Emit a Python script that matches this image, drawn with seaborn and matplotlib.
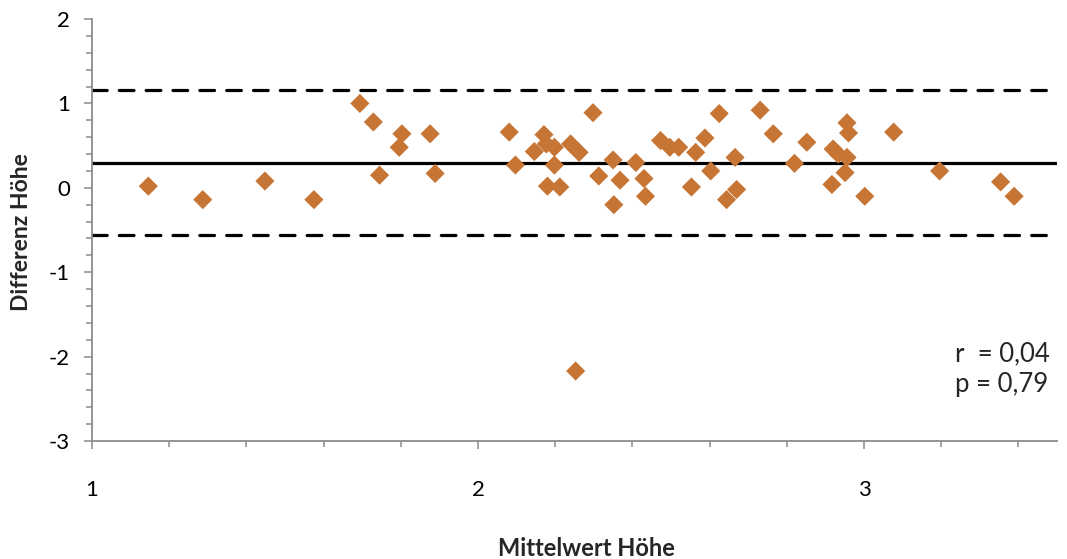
import matplotlib
matplotlib.use("Agg")
import matplotlib.pyplot as plt
import seaborn as sns
import pandas as pd
from matplotlib.ticker import MultipleLocator

# Bland-Altman: Mittelwert vs Differenz (Höhe)
mittelwert = [1.146, 1.287, 1.448, 1.575, 1.694, 1.729, 1.745, 1.796, 1.803, 1.876,
              1.889, 2.081, 2.097, 2.146, 2.171, 2.177, 2.198, 2.240, 2.262, 2.198,
              2.180, 2.212, 2.253, 2.298, 2.313, 2.350, 2.352, 2.368, 2.409, 2.430,
              2.434, 2.473, 2.497, 2.520, 2.553, 2.564, 2.588, 2.603, 2.625, 2.644,
              2.666, 2.670, 2.731, 2.765, 2.820, 2.852, 2.917, 2.920, 2.933, 2.956,
              2.960, 2.956, 2.951, 3.002, 3.077, 3.196, 3.354, 3.389]
differenz = [0.02, -0.14, 0.08, -0.14, 1.00, 0.78, 0.15, 0.48, 0.64, 0.64,
             0.17, 0.66, 0.27, 0.43, 0.63, 0.52, 0.48, 0.52, 0.42, 0.27,
             0.02, 0.01, -2.17, 0.89, 0.14, 0.33, -0.20, 0.09, 0.30, 0.11,
             -0.10, 0.56, 0.48, 0.48, 0.01, 0.42, 0.59, 0.20, 0.88, -0.14,
             0.36, -0.02, 0.92, 0.64, 0.29, 0.54, 0.04, 0.46, 0.40, 0.77,
             0.65, 0.36, 0.18, -0.10, 0.66, 0.20, 0.07, -0.10]

mean_diff = 0.30
loa_upper = 1.16
loa_lower = -0.56
stats_text = "r  = 0,04\np = 0,79"

sns.set_style("white")
plt.rcParams['font.family'] = ['Lato', 'DejaVu Sans']
plt.rcParams['axes.unicode_minus'] = False

df = pd.DataFrame({"Mittelwert": mittelwert, "Differenz": differenz})

fig = plt.figure(figsize=(10.67, 5.59), dpi=100)
ax = fig.add_axes([0.0862, 0.211, 0.9044, 0.755])

x_lo, x_hi = 1, 3.5
ax.plot([x_lo, x_hi], [mean_diff, mean_diff], color="black", lw=2.3, zorder=1)
for v in (loa_upper, loa_lower):
    ax.plot([x_lo, x_hi], [v, v], color="black", lw=2.3, dashes=(4.6, 3.8),
            solid_capstyle="round", dash_capstyle="round", zorder=1)

sns.scatterplot(data=df, x="Mittelwert", y="Differenz", marker="D", s=95,
                color="#C67535", edgecolor="none", linewidth=0, ax=ax, zorder=2)

ax.set_xlim(x_lo, x_hi)
ax.set_ylim(-3, 2)
ax.xaxis.set_major_locator(MultipleLocator(1))
ax.xaxis.set_minor_locator(MultipleLocator(0.2))
ax.yaxis.set_major_locator(MultipleLocator(1))
ax.yaxis.set_minor_locator(MultipleLocator(0.2))

for side in ("top", "right"):
    ax.spines[side].set_visible(False)
for side in ("left", "bottom"):
    ax.spines[side].set_color("#8c8c8c")
    ax.spines[side].set_linewidth(1.3)

ax.tick_params(axis="both", which="both", direction="out", color="#8c8c8c", width=1.1,
               bottom=True, left=True, top=False, right=False)
ax.tick_params(axis="both", which="major", length=6, labelsize=16, labelcolor="black")
ax.tick_params(axis="both", which="minor", length=4)
ax.tick_params(axis="x", which="major", pad=22)
ax.tick_params(axis="y", which="major", pad=10)

ax.set_xlabel("Mittelwert Höhe", fontsize=17, fontweight="bold")
ax.set_ylabel("Differenz Höhe", fontsize=16.5, fontweight="bold")
ax.xaxis.set_label_coords(0.512, -0.228)
ax.yaxis.set_label_coords(-0.062, 0.495)

ax.text(3.235, -2.15, stats_text, fontsize=18.5, va="center", ha="left", linespacing=1.3)

plt.savefig("out.png", dpi=100)
